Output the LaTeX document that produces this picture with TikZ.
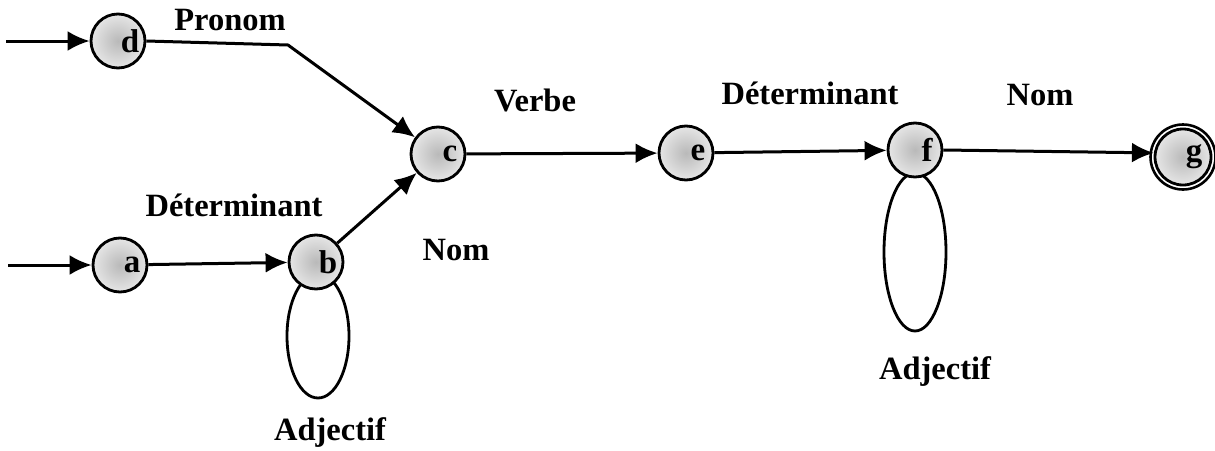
\documentclass[tikz,border=0pt]{standalone}
\usepackage{fontspec}
\setmainfont{Liberation Serif}
\usetikzlibrary{arrows.meta}
\begin{document}
\begin{tikzpicture}[x=1pt,y=-1pt,
  line width=3pt,
  every node/.style={font=\fontsize{32.5}{36}\bfseries\selectfont},
  state/.style={circle,draw,line width=2.8pt,minimum size=54pt,inner sep=0pt,
    shading=radial,inner color=gray!55,outer color=gray!20},
  lett/.style={xshift=12pt,font=\fontsize{33}{36}\bfseries\selectfont},
  trans/.style={-{Latex[length=22pt,width=20pt]}},
  loopline/.style={line width=2.8pt},
  lab/.style={inner sep=0pt}]
\useasboundingbox (0,0) rectangle (1215,450);

% self-loops (drawn first so the states cover their upper ends)
\draw[loopline] (318,336) ellipse [x radius=31, y radius=62];
\draw[loopline] (915,252) ellipse [x radius=31, y radius=79];

% states
\node[state,label={[lett]center:d}] (d) at (118,41) {};
\node[state,label={[lett]center:a}] (a) at (120,265) {};
\node[state,label={[lett]center:b}] (b) at (316,262) {};
\node[state,label={[lett]center:c}] (c) at (438,154) {};
\node[state,label={[lett]center:e}] (e) at (686,153) {};
\node[state,label={[lett]center:f}] (f) at (915,150) {};
\node[state,minimum size=56pt,label={[lett,xshift=-1pt]center:g}] (g) at (1183,157) {};
\draw[line width=2.6pt] (g) circle [radius=32.5];

% entry points and bend point
\coordinate (din) at (6,41);
\coordinate (ain) at (8,265);
\coordinate (bend) at (288,45);

% transitions
\draw[trans] (din) -- (d);
\draw[trans] (ain) -- (a);
\draw[trans] (d.east) -- (bend) -- (c);
\draw[trans] (a) -- (b);
\draw[trans] (b) -- (c);
\draw[trans] (c) -- (e);
\draw[trans] (e) -- (f);
\draw[trans] (f.east) -- (g.172);

% labels
\node[lab] (lpronom) at (230,20) {Pronom};
\node[lab] (ldet1) at (234,205) {Déterminant};
\node[lab] (lnom1) at (456,250) {Nom};
\node[lab] (lverbe) at (535,100) {Verbe};
\node[lab] (ldet2) at (810,93) {Déterminant};
\node[lab] (lnom2) at (1040,95) {Nom};
\node[lab] (ladj1) at (330,433) {Adjectif};
\node[lab] (ladj2) at (935,372) {Adjectif};
\end{tikzpicture}
\end{document}
